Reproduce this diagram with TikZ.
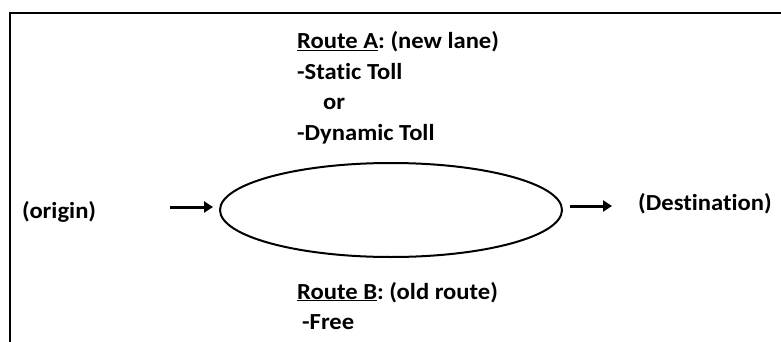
\documentclass[tikz,border=0pt]{standalone}
\usepackage{fontspec}
\setmainfont{Carlito}[FakeStretch=1.07, Ligatures=NoCommon]
\usetikzlibrary{shapes.geometric,arrows.meta}
\frenchspacing
\begin{document}
\begin{tikzpicture}[x=1pt,y=-1pt,
  lbl/.style={font=\fontsize{23}{26}\selectfont\bfseries, inner sep=0pt, anchor=base west},
  arr/.style={line width=3pt, -{Triangle[length=9pt,width=11pt]}}]
\useasboundingbox (0,0) rectangle (781,342);
\draw[line width=2pt] (10,343) -- (10,13) -- (782,13);
\node[lbl] (ra) at (297,49) {\underline{Route A}: (new lane)};
\node[lbl] (st) at (297,79.5) {-Static Toll};
\node[lbl] (or) at (323,110) {or};
\node[lbl] (dt) at (297,140.5) {-Dynamic Toll};
\node[draw, ellipse, line width=2pt, minimum width=342pt, minimum height=94pt, inner sep=0pt] (el) at (391,210) {};
\node[lbl] (orig) at (22,218) {(origin)};
\node[lbl] (dest) at (638,210) {(Destination)};
\coordinate (a1) at (170,207);
\coordinate (a1e) at (213,207);
\draw[arr] (a1) -- (a1e);
\coordinate (a2s) at (570,206);
\coordinate (a2) at (612,206);
\draw[arr] (a2s) -- (a2);
\node[lbl] (rb) at (297,299) {\underline{Route B}: (old route)};
\node[lbl] (fr) at (302,329) {-Free};
\end{tikzpicture}
\end{document}
